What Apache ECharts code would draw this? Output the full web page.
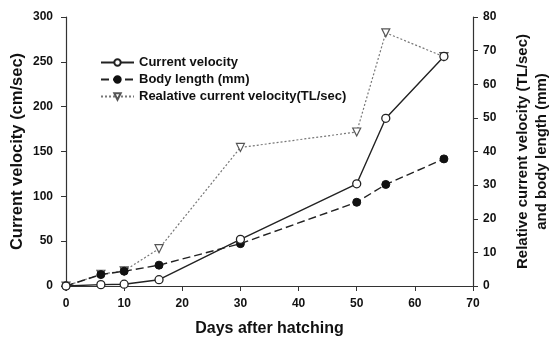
<!DOCTYPE html>
<html>
<head>
<meta charset="utf-8">
<script src="https://cdn.jsdelivr.net/npm/echarts@6/dist/echarts.min.js"></script>
<style>
  html, body { margin: 0; padding: 0; background: #fff; }
  #chart { width: 554px; height: 337px; }
</style>
</head>
<body>
<div id="chart"></div>
<script>
// days after hatching
const days = [0, 6, 10, 16, 30, 50, 55, 65]
// cm/sec, left axis
const currentVelocity = [0, 1.5, 2, 7, 52, 114, 187, 256]
// mm, right axis
const bodyLength = [0, 3.4, 4.4, 6.2, 12.6, 24.9, 30.2, 37.8]
// TL/sec, right axis
const relativeVelocity = [0, 3.5, 4.5, 11.1, 41.2, 45.8, 75.3, 68.2]

const pairs = ys => days.map((d, i) => [d, ys[i]])

const font = 'Liberation Sans, Arial, sans-serif'
const axisColor = '#333'
const titleStyle = { fontFamily: font, fontWeight: 'bold', fontSize: 16, color: '#111' }
const tickLabel = { fontFamily: font, fontWeight: 'bold', fontSize: 12, color: '#111' }

const chart = echarts.init(document.getElementById('chart'))

chart.setOption({
  animation: false,
  textStyle: { fontFamily: font },
  grid: { left: 66, right: 81, top: 17, bottom: 51, outerBoundsMode: 'none', containLabel: false },
  legend: {
    left: 95,
    top: 51,
    orient: 'vertical',
    itemWidth: 33,
    itemHeight: 8,
    itemGap: 4,
    textStyle: { fontFamily: font, fontWeight: 'bold', fontSize: 13, color: '#111' },
    data: ['Current velocity', 'Body length (mm)', 'Realative current velocity(TL/sec)']
  },
  xAxis: {
    type: 'value',
    min: 0, max: 70, interval: 10,
    name: 'Days after hatching',
    nameLocation: 'middle',
    nameGap: 35,
    nameTextStyle: titleStyle,
    axisLine: { lineStyle: { color: axisColor, width: 1.2 } },
    axisTick: { length: 5, lineStyle: { color: axisColor } },
    axisLabel: Object.assign({ margin: 12 }, tickLabel),
    splitLine: { show: false }
  },
  yAxis: [
    {
      type: 'value',
      min: 0, max: 300, interval: 50,
      name: 'Current velocity (cm/sec)',
      nameLocation: 'middle',
      nameGap: 40,
      nameMoveOverlap: false,
      nameTextStyle: Object.assign({}, titleStyle, { fontSize: 16.5 }),
      axisLine: { show: true, lineStyle: { color: axisColor, width: 1.2 } },
      axisTick: { show: true, length: 5, lineStyle: { color: axisColor } },
      axisLabel: Object.assign({ margin: 13 }, tickLabel),
      splitLine: { show: false }
    },
    {
      type: 'value',
      min: 0, max: 80, interval: 10,
      position: 'right',
      name: 'Relative current velocity (TL/sec)\nand body length (mm)',
      nameLocation: 'middle',
      nameGap: 40,
      nameRotate: 90,
      nameTextStyle: Object.assign({}, titleStyle, { fontSize: 15, lineHeight: 19, align: 'center' }),
      axisLine: { show: true, lineStyle: { color: axisColor, width: 1.2 } },
      axisTick: { show: true, length: 5, lineStyle: { color: axisColor } },
      axisLabel: Object.assign({ margin: 10 }, tickLabel),
      splitLine: { show: false }
    }
  ],
  series: [
    {
      name: 'Current velocity',
      type: 'line',
      yAxisIndex: 0,
      data: pairs(currentVelocity),
      symbol: 'circle',
      symbolSize: 8,
      itemStyle: { color: '#fff', borderColor: '#222', borderWidth: 1.3 },
      lineStyle: { color: '#222', width: 1.4, type: 'solid' },
      z: 3
    },
    {
      name: 'Body length (mm)',
      type: 'line',
      yAxisIndex: 1,
      data: pairs(bodyLength),
      symbol: 'circle',
      symbolSize: 8,
      itemStyle: { color: '#111', borderColor: '#111', borderWidth: 1 },
      lineStyle: { color: '#222', width: 1.4, type: [8, 4] },
      z: 2
    },
    {
      name: 'Realative current velocity(TL/sec)',
      type: 'line',
      yAxisIndex: 1,
      data: pairs(relativeVelocity),
      symbol: 'triangle',
      symbolRotate: 180,
      symbolSize: 8,
      itemStyle: { color: '#fff', borderColor: '#555', borderWidth: 1.2 },
      lineStyle: { color: '#777', width: 1.2, type: [2, 2] },
      z: 1
    }
  ]
})
</script>
</body>
</html>
